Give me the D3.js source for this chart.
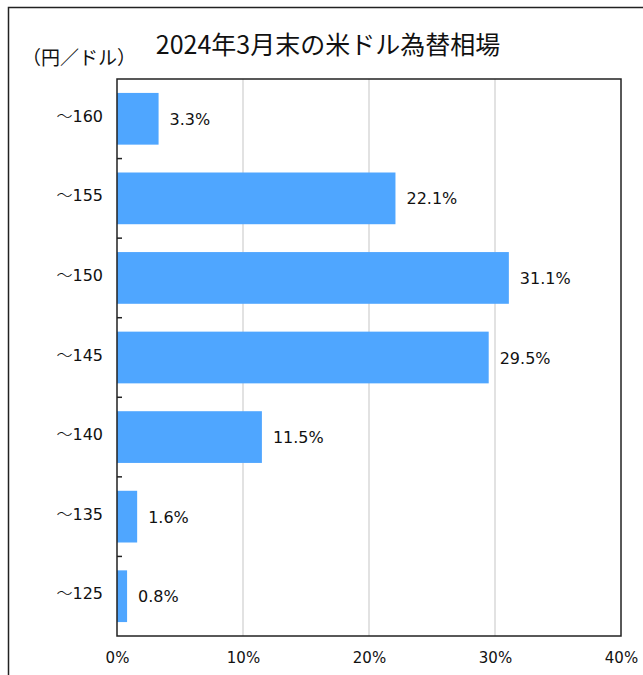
<!DOCTYPE html>
<html>
<head>
<meta charset="utf-8">
<script src="https://cdn.jsdelivr.net/npm/d3@7"></script>
<style>
  body { margin: 0; background: #fff; }
  svg { display: block; }
</style>
</head>
<body>
<div id="chart"></div>
<script>
// data
const categories = ["160", "155", "150", "145", "140", "135", "125"];
const shares = [3.3, 22.1, 31.1, 29.5, 11.5, 1.6, 0.8];
const xTicks = [0, 10, 20, 30, 40];
const title = "2024年3月末の米ドル為替相場";
const unitLabel = "（円／ドル）";

const W = 643, H = 675;
const margin = { top: 79, right: 22, bottom: 39, left: 117 };
const width = W - margin.left - margin.right;
const height = H - margin.top - margin.bottom;
const jpFont = "'Noto Sans CJK JP', sans-serif";
const numFont = "'DejaVu Sans', sans-serif";

const svg = d3.select("#chart").append("svg")
    .attr("width", W)
    .attr("height", H);

// outer frame (runs off the right and bottom of the picture)
svg.append("rect")
    .attr("x", 8.5)
    .attr("y", 7.5)
    .attr("width", W + 20)
    .attr("height", H + 20)
    .attr("fill", "none")
    .attr("stroke", "#222")
    .attr("stroke-width", 1.5);

svg.append("text")
    .attr("x", 328)
    .attr("y", 54)
    .attr("text-anchor", "middle")
    .attr("font-family", jpFont)
    .attr("font-size", "25px")
    .attr("fill", "#111")
    .text(title);

svg.append("text")
    .attr("x", 22)
    .attr("y", 65)
    .attr("font-family", jpFont)
    .attr("font-size", "19px")
    .attr("fill", "#111")
    .text(unitLabel);

const g = svg.append("g")
    .attr("transform", `translate(${margin.left},${margin.top})`);

const x = d3.scaleLinear().domain([0, 40]).range([0, width]);
const y = d3.scaleBand().domain(categories).range([0, height]).paddingInner(0.35).paddingOuter(0.175);

// gridlines
g.selectAll(".grid")
    .data(xTicks.slice(1, -1))
    .enter()
    .append("line")
    .attr("class", "grid")
    .attr("x1", d => x(d))
    .attr("x2", d => x(d))
    .attr("y1", 0)
    .attr("y2", height)
    .attr("stroke", "#d9d9d9")
    .attr("stroke-width", 1.5);

// bars
g.selectAll(".bar")
    .data(shares)
    .enter()
    .append("rect")
    .attr("class", "bar")
    .attr("x", 0)
    .attr("y", (d, i) => y(categories[i]))
    .attr("width", d => x(d))
    .attr("height", y.bandwidth())
    .attr("fill", "#4FA6FF");

// value labels
g.selectAll(".label")
    .data(shares)
    .enter()
    .append("text")
    .attr("class", "label")
    .attr("x", d => x(d) + 11)
    .attr("y", (d, i) => y(categories[i]) + y.bandwidth() / 2 + 6)
    .attr("font-family", numFont)
    .attr("font-size", "16px")
    .attr("fill", "#111")
    .text(d => d.toFixed(1) + "%");

// plot frame
g.append("rect")
    .attr("x", 0)
    .attr("y", 0)
    .attr("width", width)
    .attr("height", height)
    .attr("fill", "none")
    .attr("stroke", "#222")
    .attr("stroke-width", 1.5);

// category ticks on the band boundaries, pointing inward
const step = y.step();
g.selectAll(".ytick")
    .data(categories.slice(1))
    .enter()
    .append("line")
    .attr("class", "ytick")
    .attr("x1", 0)
    .attr("x2", 5)
    .attr("y1", d => y(d) - step * y.paddingInner() / 2)
    .attr("y2", d => y(d) - step * y.paddingInner() / 2)
    .attr("stroke", "#222")
    .attr("stroke-width", 1.5);

// category labels: wide wave dash + number
const ylab = g.selectAll(".ylabel")
    .data(categories)
    .enter()
    .append("text")
    .attr("class", "ylabel")
    .attr("x", -14)
    .attr("y", d => y(d) + y.bandwidth() / 2 + 3)
    .attr("text-anchor", "end")
    .attr("font-size", "16px")
    .attr("fill", "#111");
ylab.append("tspan").attr("font-family", jpFont).attr("font-weight", 300).text("～");
ylab.append("tspan").attr("font-family", numFont).text(d => d);

// x axis labels
const xAxis = g.append("g")
    .attr("transform", `translate(0,${height})`)
    .call(d3.axisBottom(x).tickValues(xTicks).tickSize(0).tickPadding(16).tickFormat(d => d + "%"));
xAxis.select(".domain").remove();
xAxis.selectAll("text")
    .attr("font-family", numFont)
    .attr("font-size", "15px")
    .attr("fill", "#111");
</script>
</body>
</html>
